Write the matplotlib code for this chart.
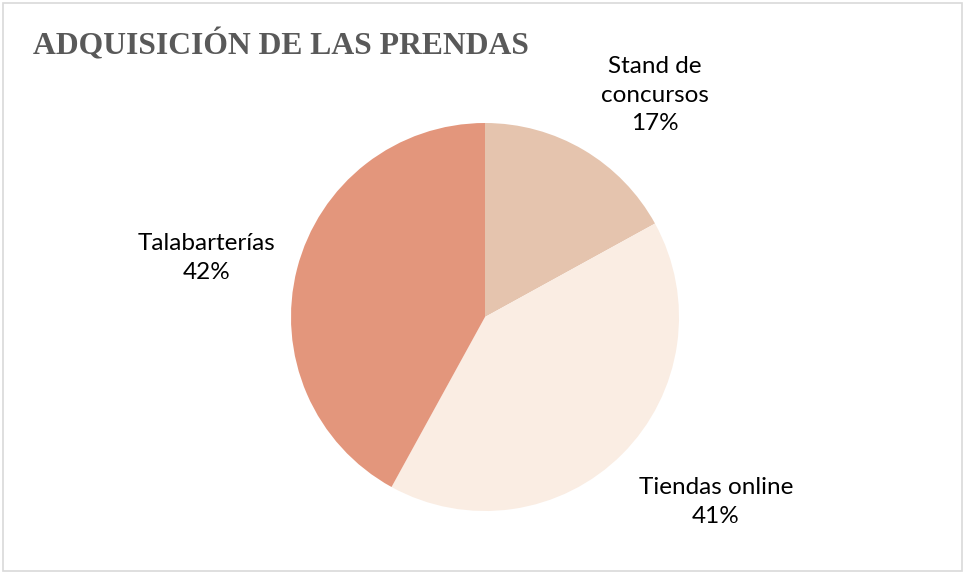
"""
Pie chart: adquisición de las prendas (Stand de concursos / Tiendas online / Talabarterías).
"""

import matplotlib
matplotlib.use("Agg")

import matplotlib.pyplot as plt
from matplotlib.patches import Rectangle

# -- Data ---------------------------------------------------------------------
categories = ["Stand de\nconcursos", "Tiendas online", "Talabarterías"]
shares = [17, 41, 42]
colors = ["#E5C4AE", "#FAEDE3", "#E3967C"]

# label anchor points in pie-radius units (centre = 0,0)
label_pos = [(0.876, 1.144), (1.191, -0.954), (-1.433, 0.304)]

W, H, DPI = 965, 574, 100
cx, cy, r = 485, 317, 194   # pie centre / radius in pixels

# -- Figure -------------------------------------------------------------------
fig = plt.figure(figsize=(W / DPI, H / DPI), dpi=DPI, facecolor="white")
ax = fig.add_axes([(cx - r) / W, (H - cy - r) / H, 2 * r / W, 2 * r / H])

wedges, _ = ax.pie(
    shares,
    colors=colors,
    startangle=90,
    counterclock=False,
    radius=1,
    wedgeprops=dict(linewidth=0),
)
ax.set_xlim(-1, 1)
ax.set_ylim(-1, 1)
ax.set_aspect("equal")
ax.axis("off")

for name, val, (lx, ly) in zip(categories, shares, label_pos):
    ax.text(lx, ly, f"{name}\n{val}%", ha="center", va="center",
            fontsize=17.5, family=["Lato", "DejaVu Sans"], color="#000000",
            linespacing=1.45, clip_on=False)

fig.text(33 / W, 1 - 45 / H, "ADQUISICIÓN DE LAS PRENDAS", ha="left", va="center",
         fontsize=22.8, fontweight="bold", family="Liberation Serif", color="#595959")

# outer frame
fig.patches.append(Rectangle((3 / W, 3 / H), 1 - 6 / W, 1 - 6 / H,
                             transform=fig.transFigure, fill=False,
                             edgecolor="#D9D9D9", linewidth=1.2))

fig.savefig("out.png", dpi=DPI, facecolor="white")
plt.close(fig)
